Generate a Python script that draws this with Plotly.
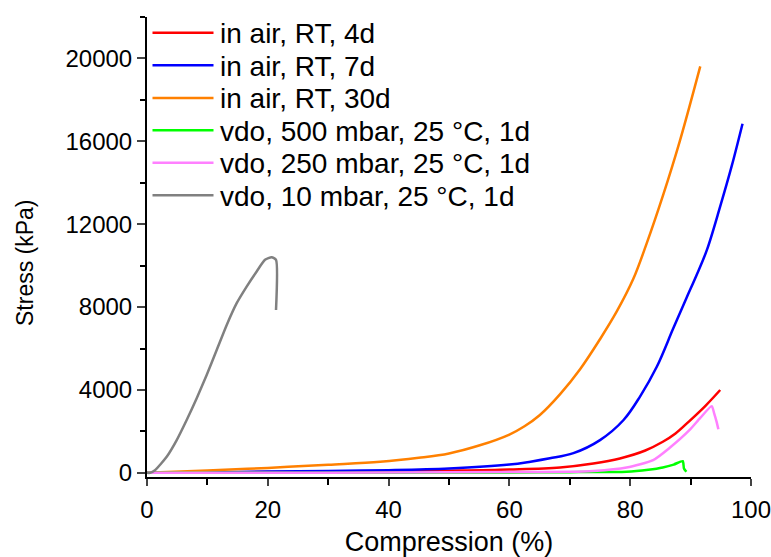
import plotly.graph_objects as go

# Data (Compression %, Stress kPa)
air4d_x = [0, 10, 20, 30, 40, 50, 60, 68.4, 73.9, 78.3, 82.5, 85.4, 87.5, 89.8, 92.5, 94.9]
air4d_y = [0, 25, 40, 50, 60, 100, 160, 260, 450, 695, 1080, 1500, 1900, 2500, 3250, 4000]

air7d_x = [0, 10, 20, 30, 40, 50, 60, 63.5, 66.7, 70.6, 75, 78.9, 81.6, 84.4, 87.1, 89.3, 91, 92.7, 94.9, 96.8, 98.6]
air7d_y = [0, 30, 60, 95, 130, 210, 400, 540, 700, 950, 1580, 2550, 3670, 5120, 6950, 8430, 9550, 10760, 12860, 14800, 16850]

air30d_x = [0, 10, 20, 30, 38.6, 45, 50, 55.1, 60, 62.5, 65, 68.4, 71.7, 75, 77.8, 80.5, 82.7, 85.5, 88.2, 91.6]
air30d_y = [0, 110, 240, 390, 530, 725, 937, 1330, 1850, 2250, 2780, 3800, 5000, 6450, 7800, 9350, 11050, 13450, 16000, 19620]

vdo500_x = [0, 20, 40, 60, 70, 79.4, 83, 85.4, 87.2, 88.7, 88.9, 89.3]
vdo500_y = [0, 0, 10, 20, 35, 50, 150, 260, 400, 565, 210, 50]

vdo250_x = [0, 20, 40, 60, 70, 73.9, 79.4, 83.8, 86.5, 89.8, 91.6, 93.5, 93.9, 94.3, 94.6]
vdo250_y = [0, 0, 20, 40, 50, 90, 260, 615, 1200, 2060, 2650, 3220, 2870, 2470, 2100]

vdo10_x = [0, 0.5, 1.32, 3.26, 4.92, 6.57, 8.23, 9.88, 11.54, 13.2, 14.85, 16.5, 18.16, 19.54, 20.64, 21.36, 21.36]
vdo10_y = [0, 0, 130, 775, 1580, 2550, 3600, 4720, 5930, 7140, 8190, 8990, 9720, 10280, 10410, 10280, 7860]

names = ["in air, RT, 4d", "in air, RT, 7d", "in air, RT, 30d",
         "vdo, 500 mbar, 25 °C, 1d", "vdo, 250 mbar, 25 °C, 1d", "vdo, 10 mbar, 25 °C, 1d"]
xs_all = [air4d_x, air7d_x, air30d_x, vdo500_x, vdo250_x, vdo10_x]
ys_all = [air4d_y, air7d_y, air30d_y, vdo500_y, vdo250_y, vdo10_y]
colors = ["#ff0000", "#0000ff", "#ff8000", "#00ff00", "#ff80ff", "#808080"]
smoothing = [1.0, 1.0, 1.0, 0.6, 0.6, 0.6]

fig = go.Figure()
for name, xs, ys, col, sm in zip(names, xs_all, ys_all, colors, smoothing):
    fig.add_trace(go.Scatter(x=xs, y=ys, mode="lines", name=name, showlegend=False,
                             line=dict(color=col, width=2.5, shape="spline", smoothing=sm)))

# plot-area geometry (pixels) used for the hand-placed legend and y title
L, R, T, B = 147, 751, 17, 477
W, H = R - L, B - T
def px(xp):
    return (xp - L) / W
def py(yp):
    return (B - yp) / H

legend_rows = [32.7, 65.3, 98, 130.3, 162.7, 195.3]
font = "Liberation Sans, Arial, sans-serif"
for name, col, row in zip(names, colors, legend_rows):
    fig.add_shape(type="line", xref="paper", yref="paper",
                  x0=px(152.5), x1=px(213.5), y0=py(row), y1=py(row),
                  line=dict(color=col, width=2.5))
    fig.add_annotation(xref="paper", yref="paper", x=px(218), y=py(row + 1),
                       xanchor="left", yanchor="middle", text=name, showarrow=False,
                       font=dict(size=28, family=font, color="black"))

# y axis title
fig.add_annotation(xref="paper", yref="paper", x=px(25), y=py(263), textangle=-90,
                   xanchor="center", yanchor="middle", text="Stress (kPa)", showarrow=False,
                   font=dict(size=23, family=font, color="black"))

fig.update_layout(
    width=771, height=557,
    margin=dict(l=L, r=771 - R, t=T, b=557 - B),
    paper_bgcolor="white", plot_bgcolor="white",
    font=dict(family=font, color="black", size=23),
    showlegend=False,
    xaxis=dict(range=[0, 100], tickvals=[0, 20, 40, 60, 80, 100], ticktext=["0", "20", "40", "60", "80", "100"],
               ticks="outside", ticklen=7, tickwidth=2, showline=True, linewidth=2,
               linecolor="black", showgrid=False, zeroline=False, ticklabeloverflow="allow",
               ticklabelstandoff=3, automargin=False,
               minor=dict(tickvals=[10, 30, 50, 70, 90], ticks="outside", ticklen=6, tickwidth=2, tickcolor="black"),
               title=dict(text="Compression (%)", font=dict(size=27), standoff=15),
               tickfont=dict(size=24)),
    yaxis=dict(range=[-200, 22000], tickvals=[0, 4000, 8000, 12000, 16000, 20000],
               ticktext=["0", "4000", "8000", "12000", "16000", "20000"],
               ticks="outside", ticklen=8, tickwidth=2, showline=True, linewidth=2,
               linecolor="black", showgrid=False, zeroline=False, automargin=False,
               minor=dict(tickvals=[2000, 6000, 10000, 14000, 18000, 22000], ticks="outside", ticklen=5, tickwidth=2, tickcolor="black"),
               tickfont=dict(size=24)),
)

fig.write_html("out.html")
